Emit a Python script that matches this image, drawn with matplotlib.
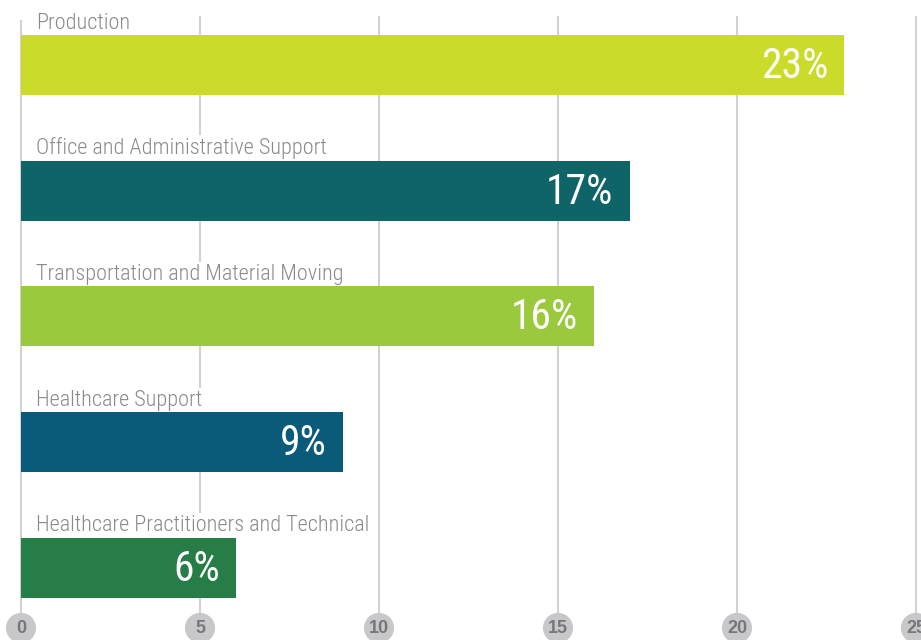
import matplotlib
matplotlib.use("Agg")
import matplotlib.pyplot as plt
from matplotlib import font_manager
from matplotlib.font_manager import FontProperties

# 직업군별 비율 데이터
categories = [
    "Production",
    "Office and Administrative Support",
    "Transportation and Material Moving",
    "Healthcare Support",
    "Healthcare Practitioners and Technical",
]
values = [23, 17, 16, 9, 6]
bar_colors = ["#CADB2A", "#0F6468", "#9BC93E", "#0A5B7A", "#267D46"]
ticks = [0, 5, 10, 15, 20, 25]


# 좁은(condensed) 글꼴 찾기
def find_condensed(want_light):
    best = None
    for f in font_manager.fontManager.ttflist:
        low = f.fname.lower()
        if not ("condensed" in low or "narrow" in low):
            continue
        if f.style != "normal" or "bold" in low or "italic" in low or "oblique" in low:
            continue
        if "thin" in low or "medium" in low or "black" in low:
            continue
        score = 0
        if "roboto" in low:
            score += 4
        if ("light" in low) == want_light:
            score += 2
        if "dejavusans" in low and "mono" not in low:
            score += 1
        if best is None or score > best[0]:
            best = (score, f.fname)
    return best[1] if best else None


cond_light = find_condensed(True)
cond_reg = find_condensed(False)


def font(path, size):
    if path:
        return FontProperties(fname=path, size=size)
    return FontProperties(family="DejaVu Sans", size=size)


fig = plt.figure(figsize=(9.21, 6.40), dpi=100)
ax = fig.add_axes([0, 0, 1, 1])
ax.set_xlim(-0.587, 25.14)
ax.set_ylim(4.573, -0.517)
ax.axis("off")

# 세로 격자선
for t in ticks:
    top = -0.36 if t == 0 else -0.39
    ax.plot([t, t], [top, 4.477], color="#D2D2D4", lw=1.5, zorder=0,
            solid_capstyle="butt")

# 막대 (라벨 배경보다 위에)
ypos = list(range(len(categories)))
ax.barh(ypos, values, height=0.477, color=bar_colors, zorder=4)

for y, name, v in zip(ypos, categories, values):
    ax.text(0.42, y - 0.29, name, fontproperties=font(cond_light, 16),
            color="#8A8A8C", va="baseline", ha="left", zorder=3,
            bbox=dict(facecolor="white", edgecolor="none", pad=1.5))
    ax.text(v - 0.45, y + 0.01, f"{v}%", fontproperties=font(cond_reg, 30),
            color="white", va="center", ha="right", zorder=5)

# 아래쪽 눈금 원
ax.scatter(ticks, [4.477] * len(ticks), s=470, color="#C8C8CA",
           zorder=3, edgecolors="none", clip_on=False)
for t in ticks:
    ax.text(t, 4.48, str(t), fontsize=13, fontweight="bold",
            family=["Liberation Sans", "DejaVu Sans"],
            color="#77777A", ha="center", va="center", zorder=4)

fig.savefig("out.png", dpi=100)
